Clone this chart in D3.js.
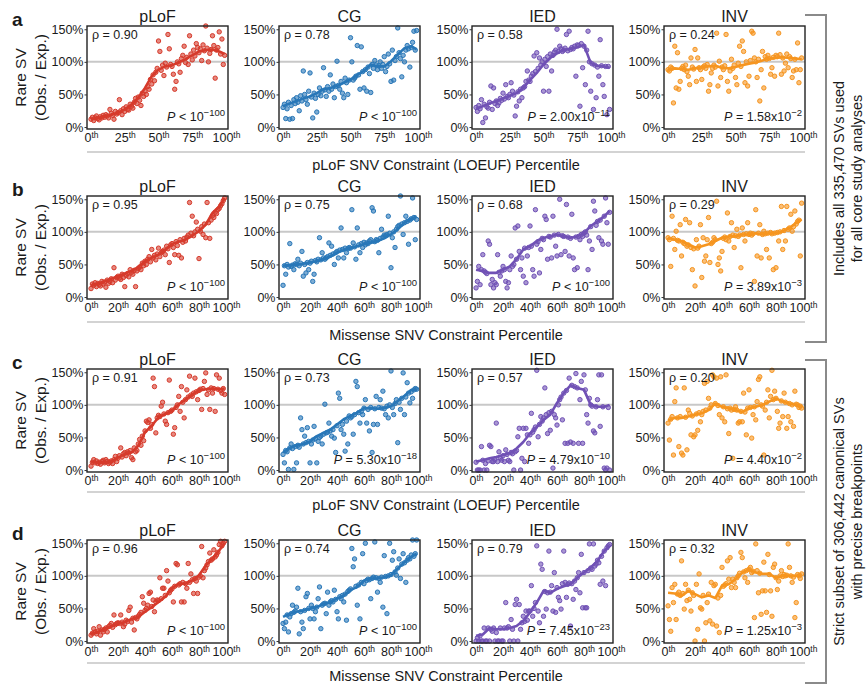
<!DOCTYPE html>
<html>
<head>
<meta charset="utf-8">
<script src="https://cdn.jsdelivr.net/npm/d3@7/dist/d3.min.js"></script>
<style>
  body { margin: 0; background: #fff; }
  text { font-family: "Liberation Sans", Arial, sans-serif; fill: #1a1a1a; }
</style>
</head>
<body>
<script>
// ---- data ----
var classes = ['pLoF', 'CG', 'IED', 'INV'];
var rowLetters = ['a', 'b', 'c', 'd'];
var rowTitles = ['pLoF SNV Constraint (LOEUF) Percentile', 'Missense SNV Constraint Percentile',
                 'pLoF SNV Constraint (LOEUF) Percentile', 'Missense SNV Constraint Percentile'];
var ticksA = [0, 25, 50, 75, 100];
var ticksB = [0, 20, 40, 60, 80, 100];
var yTicks = [0, 50, 100, 150];
var trendPct = [0, 5, 10, 15, 20, 25, 30, 35, 40, 45, 50, 55, 60, 65, 70, 75, 80, 85, 90, 95, 99];

var rhoA = ['0.90', '0.78', '0.58', '0.24'];
var rhoB = ['0.95', '0.75', '0.68', '0.29'];
var rhoC = ['0.91', '0.73', '0.57', '0.20'];
var rhoD = ['0.96', '0.74', '0.79', '0.32'];
// [operator, mantissa, exponent]
var pvalA = [['<', '', '100'], ['<', '', '100'], ['=', '2.00', '11'], ['=', '1.58', '2']];
var pvalB = [['<', '', '100'], ['<', '', '100'], ['<', '', '100'], ['=', '3.89', '3']];
var pvalC = [['<', '', '100'], ['=', '5.30', '18'], ['=', '4.79', '10'], ['=', '4.40', '2']];
var pvalD = [['<', '', '100'], ['<', '', '100'], ['=', '7.45', '23'], ['=', '1.25', '3']];

// row a
var trendA_pLoF = [12,14,16,19,22,27,34,45,60,78,88,93,95,99,104,110,116,118,119,116,112];
var ptsA_pLoF = [12,15,10,14,17,13,11,16,14,18, 15,19,17,14,27,21,18,12,24,20,
  22,42,25,19,28,24,31,27,26,35, 32,29,38,44,36,46,41,33,52,47, 55,50,62,58,73,66,80,71,84,90,
  132,116,87,95,79,98,92,142,120,96, 93,81,58,70,100,97,84,105,110,124, 99,107,96,140,112,103,118,109,128,122,
  114,120,102,126,117,155,121,100,113,119, 140,125,75,118,122,146,112,135,96,110];
var trendA_CG = [32,36,40,44,47,52,58,60,63,68,73,80,86,96,93,93,101,111,121,124,119];
var ptsA_CG = [30,35,13,28,38,12,33,13,42,36, 45,38,25,48,40,86,50,42,35,55,
  83,46,14,52,44,23,50,60,48,55, 91,57,47,62,55,80,58,66,45,62, 101,64,58,70,52,45,75,68,50,72,
  137,100,72,75,78,125,80,58,123,85, 60,88,55,92,82,53,96,90,102,95, 88,94,100,90,96,108,85,93,112,97,
  70,118,72,102,108,152,114,105,77,110, 100,118,125,120,92,122,130,147,118,148];
var trendA_IED = [28,32,36,40,44,48,52,60,72,83,96,106,113,118,120,122,126,98,94,93,91];
var ptsA_IED = [30,24,33,28,42,7,35,14,31,29, 38,63,27,60,36,40,33,37,44,41,
  52,43,65,47,45,50,68,55,49,17, 32,54,40,58,45,60,62,70,86,72, 70,78,82,109,85,114,90,106,95,100,
  55,104,93,108,55,112,86,110,115,118, 150,116,124,120,116,118,121,142,117,147, 119,122,120,124,78,126,125,32,128,91,
  124,65,118,147,100,55,97,27,95,45, 92,78,134,94,65,47,93,19,93,27];
var trendA_INV = [88,90,89,88,90,92,93,94,91,90,92,95,97,99,102,105,106,107,106,105,104];
var ptsA_INV = [88,86,92,90,37,124,60,114,58,70, 90,93,88,95,85,78,65,106,92,89,
  119,70,106,91,88,73,92,94,90,96, 55,65,83,90,95,92,144,63,101,76, 92,88,94,142,70,55,86,104,90,95,
  76,65,98,124,93,132,116,68,100,63, 78,102,147,144,106,100,76,104,40,88, 116,60,108,104,110,105,81,91,107,78,
  110,108,144,111,81,106,86,98,112,91, 108,105,76,86,104,88,129,68,88,106];

// row b
var trendB_pLoF = [17,21,24,28,32,36,40,46,55,60,65,72,81,85,88,94,101,111,129,139,152];
var ptsB_pLoF = [13,20,18,22,16,21,19,17,24,20, 23,15,26,21,24,28,22,45,26,30,
  32,29,27,35,30,16,33,36,31,42, 38,35,41,16,40,44,46,42,52,48, 55,50,58,62,54,73,60,64,57,66,
  75,62,68,70,72,65,78,74,53,80, 82,76,65,85,79,64,88,60,84,90, 86,92,95,145,98,124,94,100,115,104,
  59,101,108,96,112,91,145,114,90,118, 125,122,130,128,134,136,140,143,148,152];
var trendB_CG = [48,49,50,51,53,55,58,62,68,72,75,78,81,83,86,90,96,104,114,120,124];
var ptsB_CG = [18,48,35,50,46,82,47,49,42,51, 50,58,48,52,70,32,50,37,53,42,
  52,55,24,35,56,54,58,91,57,68, 60,58,60,62,83,64,78,66,50,68, 70,60,72,106,73,60,75,68,74,76,
  75,134,83,77,58,106,80,68,82,76, 84,80,83,82,86,88,137,132,85,88, 87,68,90,104,92,95,94,96,124,98,
  45,91,100,76,104,108,110,155,112,96, 114,124,116,81,118,120,152,122,88,119];
var trendB_IED = [42,40,37,37,42,47,58,73,78,86,91,93,96,93,91,93,98,109,116,124,132];
var ptsB_IED = [14,24,47,19,42,65,40,38,36,86, 81,19,27,14,22,19,65,38,32,40,
  47,42,24,14,22,42,63,47,50,106, 58,109,70,42,60,32,75,22,63,76, 109,78,42,32,134,81,85,37,73,90,
  88,124,119,58,93,92,60,124,95,78, 63,96,150,65,94,93,70,142,92,63, 90,127,60,42,92,45,93,88,96,93,
  98,100,95,42,86,108,73,147,132,110, 116,91,118,86,81,124,152,114,81,130];
var trendB_INV = [91,88,86,81,76,78,81,86,91,93,93,96,96,98,96,98,98,101,106,114,119];
var ptsB_INV = [91,88,47,124,90,73,101,87,86,111, 63,84,82,119,78,80,114,76,42,74,
  17,88,75,78,111,30,91,55,63,88, 122,53,82,84,91,88,147,50,60,40, 70,90,92,88,129,86,93,114,95,76,
  94,104,93,95,45,106,96,86,97,114, 96,98,95,97,24,134,63,98,111,60, 96,101,97,73,98,60,99,97,42,98,
  45,99,86,100,139,73,102,86,139,104, 106,127,101,108,132,112,116,118,63,144];

// row c
var trendC_pLoF = [12,12,11,13,19,24,27,37,58,68,81,86,91,101,108,116,122,124,125,124,125];
var ptsC_pLoF = [6,12,16,11,14,10,12,9,13,15, 11,16,13,10,12,14,10,16,21,13,
  18,22,34,20,25,27,22,28,26,30, 19,16,34,28,30,40,47,38,52,45, 60,75,73,77,64,70,141,128,57,80,
  84,82,98,104,86,75,70,88,138,90, 92,55,65,96,100,113,90,128,104,80, 108,123,112,144,115,113,118,141,120,108,
  122,124,93,125,136,149,116,123,93,126, 118,125,90,146,124,141,122,118,125,116];
var trendC_CG = [27,34,38,40,44,52,57,62,70,78,83,88,95,95,94,95,98,106,114,123,123];
var ptsC_CG = [24,11,30,28,1,34,40,33,1,36, 11,38,35,80,62,40,52,42,65,44,
  11,40,46,67,48,11,44,50,52,40, 55,101,57,58,72,60,52,62,49,27, 68,118,110,62,70,55,29,75,40,83,
  80,82,55,85,136,128,88,72,90,85, 95,108,72,93,60,96,27,70,94,113, 70,96,108,95,121,94,85,98,80,100,
  152,96,85,102,108,42,104,93,110,149, 85,112,134,118,103,120,110,123,125,124];
var trendC_IED = [13,15,18,20,23,26,33,43,56,66,77,85,103,118,130,126,123,100,97,97,100];
var ptsC_IED = [12,0,0,0,36,15,0,10,0,14, 38,36,13,13,16,72,13,28,18,15,
  22,13,31,24,15,13,27,25,0,28, 30,51,64,0,18,64,13,64,54,41, 54,87,58,62,66,153,51,70,82,75,
  80,126,85,56,88,61,90,3,85,80, 69,100,108,112,77,118,41,122,41,141, 43,130,41,128,148,126,41,108,136,41,
  146,123,85,72,110,100,98,60,57,97, 108,146,67,146,97,3,0,3,96,0];
var trendC_INV = [76,80,80,82,85,87,92,102,97,95,92,89,95,97,100,105,110,105,102,100,97];
var ptsC_INV = [72,46,78,82,23,105,126,80,36,82, 26,23,126,81,31,92,87,54,83,51,
  54,86,61,88,74,85,90,133,92,136, 110,95,100,146,143,102,141,99,85,143, 80,97,74,146,94,56,95,92,18,93,
  97,92,72,74,90,74,118,89,54,95, 123,96,49,85,97,77,105,139,143,100, 98,23,92,104,123,80,113,153,108,121,
  110,90,64,72,106,82,118,104,64,82, 102,74,100,67,121,101,100,96,98,95];

// row d
var trendD_pLoF = [11,14,19,22,27,29,34,37,45,52,60,68,81,88,88,93,101,116,126,139,150];
var ptsD_pLoF = [9,12,19,14,11,15,22,9,17,14, 18,20,14,22,24,27,21,40,25,27,
  28,27,40,29,22,26,32,30,47,52, 29,35,17,36,34,38,41,44,68,58, 47,50,55,73,75,53,63,45,60,63,
  62,97,65,81,81,70,108,92,74,78, 80,60,84,119,117,86,88,60,90,60, 88,81,119,90,103,94,73,96,92,73,
  98,100,145,97,108,112,117,122,135,124, 126,140,129,132,136,148,153,146,150,153];
var trendD_CG = [37,42,45,47,50,52,57,60,65,70,78,83,93,96,96,98,101,111,121,129,134];
var ptsD_CG = [27,19,29,40,14,37,42,55,44,46, 52,81,11,45,29,19,47,68,73,50,
  34,55,50,34,45,52,65,83,19,55, 57,58,42,75,55,60,62,60,78,64, 45,34,68,65,70,60,72,32,76,78,
  80,142,114,126,84,55,86,34,90,134, 88,150,93,95,94,65,96,98,152,97, 75,96,90,98,52,131,99,42,100,150,
  102,124,137,106,101,112,126,96,118,134, 120,90,124,128,126,132,155,130,134,155];
var trendD_IED = [8,10,20,18,18,20,23,31,44,59,77,74,80,84,87,97,105,113,123,138,146];
var ptsD_IED = [0,5,0,8,0,0,20,0,0,20, 0,18,15,20,0,13,0,0,20,0,
  0,20,59,20,22,0,33,18,0,56, 64,0,56,18,28,38,30,46,32,46, 46,85,38,50,59,146,46,28,118,110,
  38,76,49,74,138,75,85,46,105,44, 82,67,62,49,88,138,90,67,87,89, 23,88,64,92,79,97,105,74,133,51,
  105,51,51,108,149,112,110,149,115,118, 124,120,87,130,92,138,85,143,146,148];
var trendD_INV = [74,73,69,77,72,67,70,66,85,87,95,105,110,105,103,103,97,100,100,100,103];
var ptsD_INV = [54,33,15,82,59,87,33,72,75,70, 123,73,49,87,62,78,64,46,74,70,
  0,87,18,103,51,49,70,0,28,59, 72,31,90,26,85,87,23,66,13,70, 113,84,86,88,123,95,128,82,95,90,
  82,97,100,104,136,128,106,97,108,90, 110,113,105,107,36,149,108,74,104,41, 77,121,77,44,133,102,77,38,113,118,
  97,79,92,100,108,99,102,100,101,149, 113,100,90,98,36,59,102,100,96,103];

// table built from the arrays above
var rows = [
  { ticks: ticksA, rho: rhoA, pval: pvalA,
    pts: [ptsA_pLoF, ptsA_CG, ptsA_IED, ptsA_INV], trend: [trendA_pLoF, trendA_CG, trendA_IED, trendA_INV] },
  { ticks: ticksB, rho: rhoB, pval: pvalB,
    pts: [ptsB_pLoF, ptsB_CG, ptsB_IED, ptsB_INV], trend: [trendB_pLoF, trendB_CG, trendB_IED, trendB_INV] },
  { ticks: ticksB, rho: rhoC, pval: pvalC,
    pts: [ptsC_pLoF, ptsC_CG, ptsC_IED, ptsC_INV], trend: [trendC_pLoF, trendC_CG, trendC_IED, trendC_INV] },
  { ticks: ticksB, rho: rhoD, pval: pvalD,
    pts: [ptsD_pLoF, ptsD_CG, ptsD_IED, ptsD_INV], trend: [trendD_pLoF, trendD_CG, trendD_IED, trendD_INV] }
];

// ---- layout ----
var colors = ['#d63a2b', '#2877b8', '#7051b5', '#f6951f'];
var boxL = [87, 279, 472, 664], boxW = 141, boxH = 103;
var rowTop = [26, 196, 369, 540];
var sepY = [152, 322, 492, 663];

var svg = d3.select('body').append('svg')
    .attr('width', 867)
    .attr('height', 688);

var x = d3.scaleLinear().domain([-3, 101.5]).range([0, boxW]);
var y = d3.scaleLinear().domain([-3, 155]).range([boxH, 0]);

var line = d3.line()
    .x(function (d, i) { return x(trendPct[i]); })
    .y(function (d) { return y(d); });

rows.forEach(function (row, r) {
  var top = rowTop[r];

  // panel letter
  svg.append('text')
    .attr('x', 12).attr('y', top)
    .attr('font-size', '19px').attr('font-weight', 'bold')
    .text(rowLetters[r]);

  // y label
  var yl = svg.append('g').attr('transform', 'translate(0,' + (top + boxH / 2) + ') rotate(-90)');
  yl.append('text').attr('x', 0).attr('y', 26).attr('text-anchor', 'middle')
    .attr('font-size', '15.5px').text('Rare SV');
  yl.append('text').attr('x', 0).attr('y', 46).attr('text-anchor', 'middle')
    .attr('font-size', '15.5px').text('(Obs. / Exp.)');

  classes.forEach(function (cls, c) {
    var col = colors[c];
    var g = svg.append('g')
        .attr('transform', 'translate(' + boxL[c] + ',' + top + ')');

    g.append('text')
      .attr('x', boxW / 2).attr('y', -4)
      .attr('text-anchor', 'middle')
      .attr('font-size', '16px')
      .text(cls);

    // 100% reference line
    g.append('line')
      .attr('x1', 0).attr('x2', boxW)
      .attr('y1', y(100)).attr('y2', y(100))
      .attr('stroke', '#c8c8c8').attr('stroke-width', 2);

    g.selectAll('circle')
      .data(row.pts[c])
      .enter()
      .append('circle')
      .attr('cx', function (d, i) { return x(i); })
      .attr('cy', function (d) { return y(d); })
      .attr('r', 2.2)
      .attr('fill', col)
      .attr('fill-opacity', 0.6)
      .attr('stroke', col)
      .attr('stroke-width', 1);

    g.append('path')
      .datum(row.trend[c])
      .attr('d', line)
      .attr('fill', 'none')
      .attr('stroke', col)
      .attr('stroke-width', 2.6)
      .attr('stroke-linejoin', 'round');

    g.append('rect')
      .attr('width', boxW).attr('height', boxH)
      .attr('fill', 'none')
      .attr('stroke', '#222').attr('stroke-width', 1.4);

    // y axis
    var yAxis = d3.axisLeft(y).tickValues(yTicks).tickSize(2.5).tickPadding(1)
        .tickFormat(function (d) { return d + '%'; });
    var ya = g.append('g').call(yAxis);
    ya.select('.domain').remove();
    ya.selectAll('line').attr('stroke', '#333');
    ya.selectAll('text').attr('font-size', '12.5px').attr('fill', '#1a1a1a')
      .attr('font-family', '"Liberation Sans", Arial, sans-serif');

    // x axis with ordinal suffix
    var xAxis = d3.axisBottom(x).tickValues(row.ticks).tickSize(0).tickPadding(4);
    var xa = g.append('g').attr('transform', 'translate(0,' + boxH + ')').call(xAxis);
    xa.select('.domain').remove();
    xa.selectAll('text')
      .attr('font-size', '12.5px').attr('fill', '#1a1a1a')
      .attr('font-family', '"Liberation Sans", Arial, sans-serif')
      .text(null)
      .each(function (d) {
        var t = d3.select(this);
        t.append('tspan').text(d);
        t.append('tspan').attr('dy', '-0.45em').attr('font-size', '8.5px').text('th');
      });

    // rho
    g.append('text')
      .attr('x', 5).attr('y', 13)
      .attr('font-size', '12.5px')
      .text('\u03c1 = ' + row.rho[c]);

    // P value
    var pv = row.pval[c];
    var pt = g.append('text')
      .attr('x', boxW - 3).attr('y', boxH - 8)
      .attr('text-anchor', 'end')
      .attr('font-size', '12.5px');
    pt.append('tspan').attr('font-style', 'italic').text('P');
    pt.append('tspan').text(' ' + pv[0] + ' ' + (pv[1] ? pv[1] + 'x' : '') + '10');
    pt.append('tspan').attr('dy', '-0.5em').attr('font-size', '9.5px').text('\u2212' + pv[2]);
  });

  // separator + x title
  svg.append('line')
    .attr('x1', boxL[0]).attr('x2', boxL[3] + boxW)
    .attr('y1', sepY[r]).attr('y2', sepY[r])
    .attr('stroke', '#c4c4c4').attr('stroke-width', 1.5);
  svg.append('text')
    .attr('x', (boxL[0] + boxL[3] + boxW) / 2).attr('y', sepY[r] + 18)
    .attr('text-anchor', 'middle')
    .attr('font-size', '14.5px')
    .text(rowTitles[r]);
});

// brackets on the right
var brackets = [
  { y0: 15, y1: 342, lines: ['Includes all 335,470 SVs used', 'for all core study analyses'] },
  { y0: 360, y1: 683, lines: ['Strict subset of 306,442 canonical SVs', 'with precise breakpoints'] }
];
brackets.forEach(function (b) {
  svg.append('path')
    .attr('d', 'M805,' + b.y0 + 'H826V' + b.y1 + 'H805')
    .attr('fill', 'none')
    .attr('stroke', '#8a8a8a').attr('stroke-width', 2);
  var mid = (b.y0 + b.y1) / 2;
  var tg = svg.append('g').attr('transform', 'translate(0,' + mid + ') rotate(-90)');
  tg.append('text').attr('x', 0).attr('y', 844).attr('text-anchor', 'middle')
    .attr('font-size', '14.5px').text(b.lines[0]);
  tg.append('text').attr('x', 0).attr('y', 862).attr('text-anchor', 'middle')
    .attr('font-size', '14.5px').text(b.lines[1]);
});
</script>
</body>
</html>
